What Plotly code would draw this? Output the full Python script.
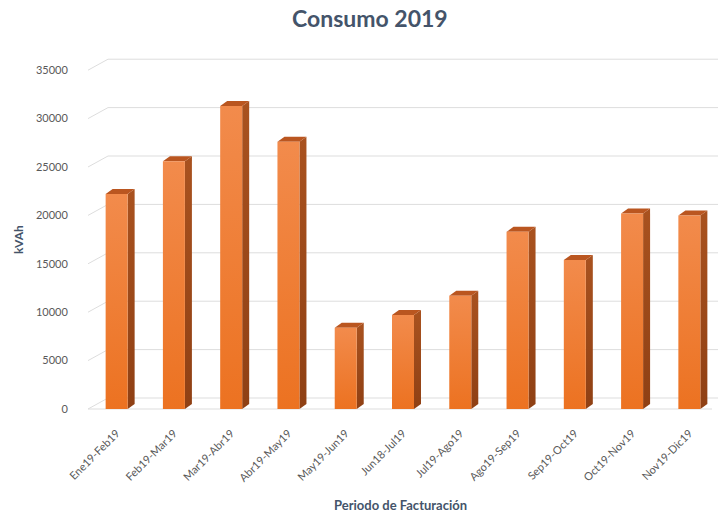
import plotly.graph_objects as go

# Billing periods and consumption (kVAh)
periodos = ["Ene19-Feb19", "Feb19-Mar19", "Mar19-Abr19", "Abr19-May19", "May19-Jun19",
            "Jun18-Jul19", "Jul19-Ago19", "Ago19-Sep19", "Sep19-Oct19", "Oct19-Nov19",
            "Nov19-Dic19"]
consumo = [22200, 25600, 31300, 27600, 8400, 9700, 11700, 18300, 15400, 20200, 20000]
y_ticks = [0, 5000, 10000, 15000, 20000, 25000, 30000, 35000]

W, H = 722, 515

# plot box geometry (pixels)
x_left_px, x_right_px = 88, 718
y_zero_px = 409
px_per_unit = 9.68 / 1000
y_min, y_max = -900, 37500
n = len(periodos)
x_min, x_max = -0.5, n - 0.5
px_per_cat = (x_right_px - x_left_px) / (x_max - x_min)

dom_x = [x_left_px / W, x_right_px / W]
y_bottom_px = y_zero_px - y_min * px_per_unit
y_top_px = y_zero_px - y_max * px_per_unit
dom_y = [1 - y_bottom_px / H, 1 - y_top_px / H]

# pseudo-3D depth offsets expressed in data units
wall_dx = 20 / px_per_cat
wall_dy = 11 / px_per_unit
bar_w = 22 / px_per_cat
side_dx = 7 / px_per_cat
side_dy = 5 / px_per_unit

GRID = "#DDDDDD"
fig = go.Figure()

# back-wall gridlines plus the diagonal floor/wall edges at each tick
gx, gy = [], []
for t in y_ticks:
    gx += [x_min, x_min + wall_dx, x_max, None]
    gy += [t, t + wall_dy, t + wall_dy, None]
gx += [x_min, x_max - wall_dx * 0.3, None]
gy += [0, 0, None]
fig.add_trace(go.Scatter(x=gx, y=gy, mode="lines", line=dict(color=GRID, width=1),
                         hoverinfo="skip", showlegend=False))

for i, v in enumerate(consumo):
    l, r = i - bar_w / 2, i + bar_w / 2
    # right side face
    fig.add_trace(go.Scatter(
        x=[r, r + side_dx, r + side_dx, r, r],
        y=[0, side_dy, v + side_dy, v, 0],
        mode="lines", fill="toself", line=dict(width=0, color="#9E4A1C"),
        fillgradient=dict(type="vertical", colorscale=[[0, "#8F4014"], [1, "#A9521F"]]),
        hoverinfo="skip", showlegend=False))
    # top cap
    fig.add_trace(go.Scatter(
        x=[l, r, r + side_dx, l + side_dx, l],
        y=[v, v, v + side_dy, v + side_dy, v],
        mode="lines", fill="toself", line=dict(width=0, color="#BA5620"),
        fillcolor="#BA5620", hoverinfo="skip", showlegend=False))
    # front face
    fig.add_trace(go.Scatter(
        x=[l, r, r, l, l],
        y=[0, 0, v, v, 0],
        mode="lines", fill="toself", line=dict(width=0, color="#EE7828"),
        fillgradient=dict(type="vertical", colorscale=[[0, "#EC7221"], [1, "#F28B4C"]]),
        hovertemplate=f"{periodos[i]}: {v}<extra></extra>", showlegend=False))

FONT = "Lato, Open Sans, sans-serif"
TICK_FONT = dict(family=FONT, size=11, color="#595959")
fig.update_layout(
    width=W, height=H, autosize=False,
    margin=dict(l=0, r=0, t=0, b=0, autoexpand=False),
    paper_bgcolor="white", plot_bgcolor="white",
    showlegend=False,
    xaxis=dict(domain=dom_x, range=[x_min, x_max], tickvals=list(range(n)),
               ticktext=periodos, tickangle=-45, showgrid=False, zeroline=False,
               showline=False, ticks="outside", ticklen=4, tickcolor="rgba(0,0,0,0)",
               tickfont=TICK_FONT, fixedrange=True, automargin=False),
    yaxis=dict(domain=dom_y, range=[y_min, y_max], tickvals=y_ticks,
               ticktext=[str(t) for t in y_ticks], showgrid=False, zeroline=False,
               showline=False, ticks="outside", ticklen=17,
               tickcolor="rgba(0,0,0,0)", tickfont=TICK_FONT, fixedrange=True,
               automargin=False),
    annotations=[
        dict(text="<b>Consumo 2019</b>", x=370 / W, y=1 - 18 / H, xref="paper",
             yref="paper", showarrow=False, xanchor="center", yanchor="middle",
             font=dict(family=FONT, size=23, color="#44546A")),
        dict(text="<b>kVAh</b>", x=18 / W, y=1 - 240 / H, xref="paper", yref="paper",
             showarrow=False, textangle=-90, xanchor="center", yanchor="middle",
             font=dict(family=FONT, size=12, color="#44546A")),
        dict(text="<b>Periodo de Facturación</b>", x=400 / W, y=1 - 505 / H,
             xref="paper", yref="paper", showarrow=False, xanchor="center",
             yanchor="middle",
             font=dict(family=FONT, size=13, color="#44546A")),
    ],
)

fig.write_html("out.html")
